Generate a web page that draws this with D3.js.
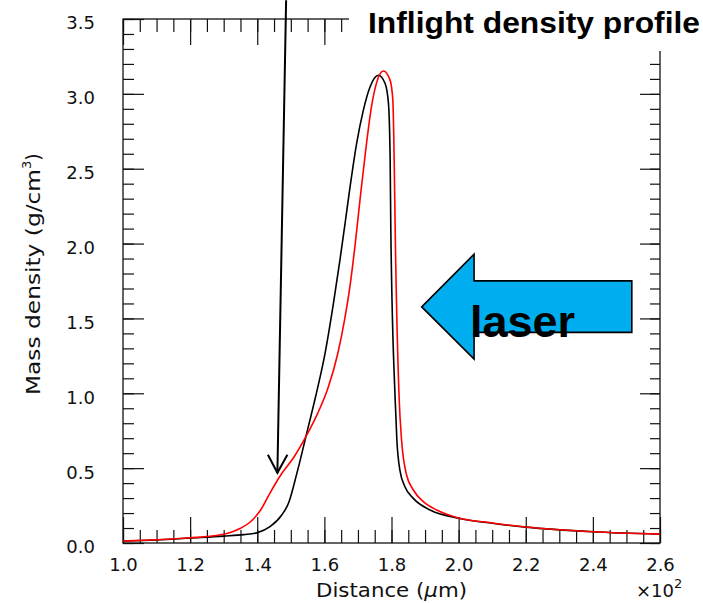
<!DOCTYPE html>
<html>
<head>
<meta charset="utf-8">
<script src="https://cdn.jsdelivr.net/npm/d3@7"></script>
<style>
  body { margin: 0; background: #fff; }
  .tick text { font-family: "DejaVu Sans", sans-serif; font-size: 18px; fill: #111; }
</style>
</head>
<body>
<div id="chart"></div>
<script>
// distance in um, density in g/cm3
var blackX = [100, 110, 120, 130, 136, 140, 143.8, 147.3, 149.3, 151.8, 154.7, 157.2, 160.2, 162.7, 164.7, 166.2, 167.6, 169.6, 171.6, 173.6, 176.1, 178.1, 179.1, 179.6, 179.8, 181.1, 181.6, 182.5, 184, 186.5, 191.5, 200, 210, 220, 240, 260];
var blackY = [0.013, 0.02, 0.033, 0.046, 0.056, 0.069, 0.109, 0.187, 0.265, 0.465, 0.73, 0.96, 1.266, 1.6, 1.9, 2.14, 2.37, 2.668, 2.89, 3.046, 3.124, 3.069, 2.935, 2.557, 2.09, 0.955, 0.688, 0.487, 0.376, 0.298, 0.22, 0.165, 0.132, 0.106, 0.075, 0.059];

var redX = [100, 110, 120, 127, 132, 135, 138, 141, 144, 147, 151, 155, 158, 161, 164, 166, 167.6, 169.2, 170.8, 172.4, 174, 175.5, 177.6, 179.6, 180.4, 180.8, 181.1, 182.3, 183, 184.5, 186.5, 189.5, 193.5, 200, 210, 220, 240, 260];
var redY = [0.013, 0.022, 0.035, 0.048, 0.07, 0.098, 0.142, 0.22, 0.342, 0.454, 0.576, 0.732, 0.866, 1.03, 1.266, 1.489, 1.711, 2.0, 2.33, 2.64, 2.91, 3.07, 3.153, 3.09, 2.957, 2.557, 2.09, 0.955, 0.688, 0.454, 0.354, 0.276, 0.22, 0.167, 0.134, 0.107, 0.075, 0.059];

var xMajor = [100, 120, 140, 160, 180, 200, 220, 240, 260];
var yMajor = [0, 0.5, 1.0, 1.5, 2.0, 2.5, 3.0, 3.5];

// annotation positions in data units
var pointerFrom = [148.6, 3.625];
var pointerTo = [146.0, 0.469];
var laserArrow = [[189.0, 1.577], [204.6, 1.929], [204.6, 1.751], [251.6, 1.751], [251.6, 1.407], [204.6, 1.407], [204.6, 1.228]];

var width = 703, height = 603;
var margin = { top: 19, right: 43, bottom: 60, left: 123 };

var svg = d3.select("#chart").append("svg")
  .attr("width", width)
  .attr("height", height)
  .style("background", "#fff");

var x = d3.scaleLinear().domain([100, 260]).range([margin.left, width - margin.right]);
var y = d3.scaleLinear().domain([0, 3.5]).range([height - margin.bottom, margin.top]);

var x0 = x.range()[0], x1 = x.range()[1];
var y0 = y.range()[0], y1 = y.range()[1];

function styleAxis(g) {
  g.select(".domain").remove();
  g.selectAll("line").attr("stroke", "#111").attr("stroke-width", 1.2);
}

var yMinor = d3.range(0, 36).map(function (d) { return d / 10; });

// minor ticks first, then major on top
svg.append("g").attr("transform", "translate(0," + y0 + ")")
  .call(d3.axisBottom(x).tickValues(d3.range(100, 261, 5)).tickSize(-13).tickFormat(""))
  .call(styleAxis);
svg.append("g").attr("transform", "translate(0," + y1 + ")")
  .call(d3.axisTop(x).tickValues(d3.range(100, 261, 5)).tickSize(-13).tickFormat(""))
  .call(styleAxis);
svg.append("g").attr("transform", "translate(" + x0 + ",0)")
  .call(d3.axisLeft(y).tickValues(yMinor).tickSize(-11).tickFormat(""))
  .call(styleAxis);
svg.append("g").attr("transform", "translate(" + x1 + ",0)")
  .call(d3.axisRight(y).tickValues(yMinor).tickSize(-10).tickFormat(""))
  .call(styleAxis);

svg.append("g").attr("transform", "translate(0," + y0 + ")")
  .call(d3.axisBottom(x).tickValues(xMajor).tickSize(-26).tickPadding(15)
    .tickFormat(function (d) { return d3.format(".1f")(d / 100); }))
  .call(styleAxis);
svg.append("g").attr("transform", "translate(0," + y1 + ")")
  .call(d3.axisTop(x).tickValues(xMajor).tickSize(-26).tickFormat(""))
  .call(styleAxis);
var yAx = svg.append("g").attr("transform", "translate(" + x0 + ",0)")
  .call(d3.axisLeft(y).tickValues(yMajor).tickSize(-21).tickPadding(28).tickFormat(d3.format(".1f")))
  .call(styleAxis);
yAx.selectAll("text").attr("dy", "0.55em");
svg.append("g").attr("transform", "translate(" + x1 + ",0)")
  .call(d3.axisRight(y).tickValues(yMajor).tickSize(-20).tickFormat(""))
  .call(styleAxis);

// frame
svg.append("rect")
  .attr("x", x0).attr("y", y1)
  .attr("width", x1 - x0).attr("height", y0 - y1)
  .attr("fill", "none").attr("stroke", "#111").attr("stroke-width", 1.3);

var line = d3.line()
  .x(function (d) { return x(d[0]); })
  .y(function (d) { return y(d[1]); })
  .curve(d3.curveMonotoneX);

svg.append("path")
  .datum(blackX.map(function (d, i) { return [d, blackY[i]]; }))
  .attr("d", line).attr("fill", "none").attr("stroke", "#000").attr("stroke-width", 1.6);
svg.append("path")
  .datum(redX.map(function (d, i) { return [d, redY[i]]; }))
  .attr("d", line).attr("fill", "none").attr("stroke", "#ff0000").attr("stroke-width", 1.6);

// axis titles
svg.append("text")
  .attr("x", 316).attr("y", 597)
  .attr("textLength", 151).attr("lengthAdjust", "spacingAndGlyphs")
  .style("font-family", "DejaVu Sans, sans-serif").style("font-size", "19px").style("fill", "#111")
  .html('Distance (<tspan font-style="italic">μ</tspan>m)');

svg.append("text")
  .attr("x", 636).attr("y", 597)
  .style("font-family", "DejaVu Sans, sans-serif").style("font-size", "18px").style("fill", "#111")
  .html('×10<tspan dy="-9" font-size="13px">2</tspan>');

svg.append("text")
  .attr("transform", "translate(40,395) rotate(-90)")
  .style("font-family", "DejaVu Sans, sans-serif").style("font-size", "19px").style("fill", "#111")
  .html('<tspan textLength="226" lengthAdjust="spacingAndGlyphs">Mass density (g/cm</tspan><tspan dy="-9" font-size="13px">3</tspan><tspan dy="9">)</tspan>');

// pointer arrow
var tipX = x(pointerTo[0]), tipY = y(pointerTo[1]);
svg.append("line")
  .attr("x1", x(pointerFrom[0])).attr("y1", y(pointerFrom[1]))
  .attr("x2", tipX).attr("y2", tipY)
  .attr("stroke", "#000").attr("stroke-width", 2);
svg.append("path")
  .attr("d", "M" + (tipX - 9.5) + "," + (tipY - 18) + "L" + tipX + "," + tipY + "L" + (tipX + 10) + "," + (tipY - 18))
  .attr("fill", "none").attr("stroke", "#000").attr("stroke-width", 2);

// laser arrow
svg.append("path")
  .attr("d", d3.line().x(function (d) { return x(d[0]); }).y(function (d) { return y(d[1]); })(laserArrow) + "Z")
  .attr("fill", "#00aeef").attr("stroke", "#000").attr("stroke-width", 1.6);

svg.append("text")
  .attr("x", 470).attr("y", 337)
  .style("font-family", "Liberation Sans, Arial, sans-serif").style("font-weight", "bold")
  .style("font-size", "45px").style("fill", "#000")
  .text("laser");

// title sits on a white box that hides the top right of the frame
svg.append("rect")
  .attr("x", 349).attr("y", 0).attr("width", width - 349).attr("height", 51)
  .attr("fill", "#fff");
svg.append("text")
  .attr("x", 368).attr("y", 33)
  .attr("textLength", 332).attr("lengthAdjust", "spacingAndGlyphs")
  .style("font-family", "Liberation Sans, Arial, sans-serif").style("font-weight", "bold")
  .style("font-size", "30px").style("fill", "#000")
  .text("Inflight density profile");
</script>
</body>
</html>
